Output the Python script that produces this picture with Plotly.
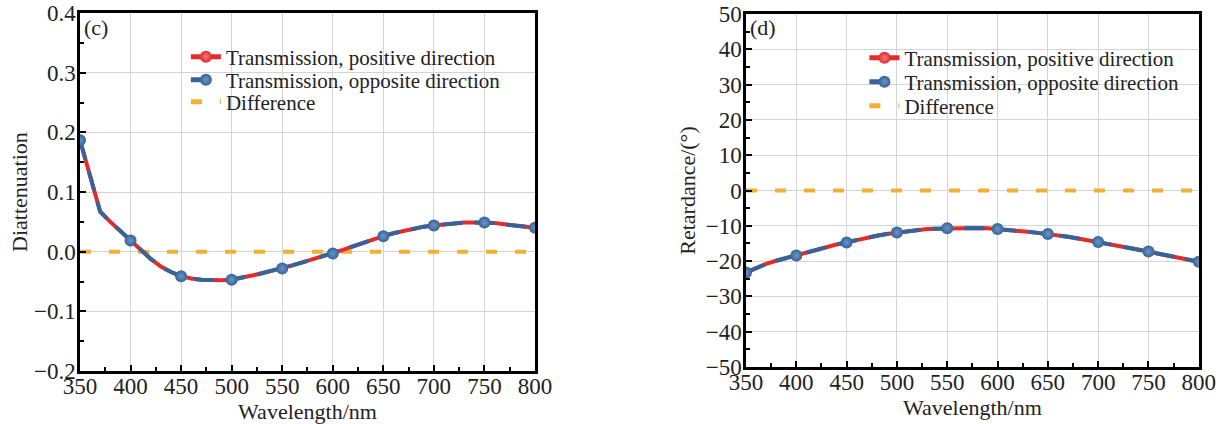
import plotly.graph_objects as go

# Wavelength grid (nm) and the sampled curves
wavelength = list(range(350, 801, 10))

diatt_positive = [0.187, 0.128, 0.067, 0.050, 0.034, 0.019, 0.003, -0.012, -0.025, -0.034,
                  -0.041, -0.045, -0.047, -0.048, -0.048, -0.047, -0.044, -0.040, -0.036, -0.032,
                  -0.028, -0.023, -0.018, -0.013, -0.008, -0.003, 0.003, 0.009, 0.015, 0.021,
                  0.026, 0.031, 0.035, 0.039, 0.042, 0.044, 0.046, 0.048, 0.049, 0.049,
                  0.049, 0.048, 0.046, 0.044, 0.042, 0.040]
diatt_opposite = list(diatt_positive)
diatt_difference = [p - o for p, o in zip(diatt_positive, diatt_opposite)]

retard_positive = [-23.2, -21.9, -20.8, -19.9, -19.1, -18.4, -17.6, -16.8, -16.0, -15.3,
                   -14.7, -14.0, -13.4, -12.8, -12.3, -11.9, -11.5, -11.2, -10.9, -10.8,
                   -10.7, -10.6, -10.5, -10.6, -10.7, -10.9, -11.1, -11.4, -11.7, -12.0,
                   -12.3, -12.7, -13.1, -13.6, -14.1, -14.6, -15.1, -15.7, -16.2, -16.8,
                   -17.3, -17.9, -18.4, -19.0, -19.6, -20.2]
retard_opposite = list(retard_positive)
retard_difference = [p - o for p, o in zip(retard_positive, retard_opposite)]

x_ticks = list(range(350, 801, 50))
names = ["Transmission, positive direction", "Transmission, opposite direction", "Difference"]

RED = "#E52A2A"
BLUE = "#35649A"
ORANGE = "#F3AE35"
FONT = "Liberation Serif"
TXT = "#222222"

# markers only every 50 nm; red ones sit fully hidden under the blue ones
size_red = [9 if w % 50 == 0 else 0 for w in wavelength]
size_blue = [12 if w % 50 == 0 else 0 for w in wavelength]

fig = go.Figure()


def add_panel(xa, ya, legends, pos, opp, diff):
    # difference first so it sits beneath the transmission curves
    fig.add_trace(go.Scatter(
        x=wavelength, y=diff, name=names[2], mode="lines",
        xaxis=xa, yaxis=ya, legend=legends[2],
        line=dict(color=ORANGE, width=4, dash="11px,18px"),
    ))
    fig.add_trace(go.Scatter(
        x=wavelength, y=pos, name=names[0], mode="lines+markers",
        xaxis=xa, yaxis=ya, legend=legends[0],
        line=dict(color=RED, width=4),
        marker=dict(size=size_red, color=RED, symbol="circle", opacity=1,
                    gradient=dict(type="radial", color="#F27A7A"),
                    line=dict(width=0)),
    ))
    fig.add_trace(go.Scatter(
        x=wavelength, y=opp, name=names[1], mode="lines+markers",
        xaxis=xa, yaxis=ya, legend=legends[1],
        line=dict(color=BLUE, width=4, dash="20px,12px"),
        marker=dict(size=size_blue, color=BLUE, symbol="circle", opacity=1,
                    gradient=dict(type="radial", color="#6D94C4"),
                    line=dict(width=0)),
    ))


add_panel("x", "y", ["legend", "legend2", "legend3"],
          diatt_positive, diatt_opposite, diatt_difference)
add_panel("x2", "y2", ["legend4", "legend5", "legend6"],
          retard_positive, retard_opposite, retard_difference)

minor_common = dict(ticks="inside", ticklen=4, tickwidth=2, tickcolor="black", showgrid=False)
axis_common = dict(
    showline=True, linecolor="black", linewidth=2.5, mirror=True,
    showgrid=True, gridcolor="#D4D4D4", gridwidth=1,
    ticks="inside", ticklen=6, tickwidth=2, tickcolor="black",
    tickfont=dict(family=FONT, size=23, color=TXT),
    zeroline=False, automargin=False,
)
title_font = dict(family=FONT, size=22, color=TXT)


def legend_row(x, y):
    return dict(x=x, y=y, xanchor="left", yanchor="middle", bgcolor="rgba(0,0,0,0)",
                font=dict(family=FONT, size=21, color=TXT), itemsizing="constant",
                borderwidth=0, visible=True)


fig.update_layout(
    width=1227, height=424,
    margin=dict(l=0, r=0, t=0, b=0, autoexpand=False),
    paper_bgcolor="white", plot_bgcolor="white",
    font=dict(family=FONT, color=TXT),
    showlegend=True,
    xaxis=dict(axis_common, domain=[0.0652, 0.4360], range=[350, 800],
               tickvals=x_ticks, minor=dict(minor_common, dtick=25, tick0=350),
               ticklabelstandoff=-7,
               title=dict(text="Wavelength/nm", font=title_font, standoff=4)),
    yaxis=dict(axis_common, domain=[0.125, 0.969], range=[-0.2, 0.4], dtick=0.1,
               tickformat=".1f", minor=dict(minor_common, dtick=0.05),
               ticklabelstandoff=-3,
               title=dict(text="Diattenuation", font=title_font, standoff=1)),
    xaxis2=dict(axis_common, domain=[0.608, 0.977], range=[350, 800], anchor="y2",
                tickvals=x_ticks, minor=dict(minor_common, dtick=25, tick0=350),
                ticklabelstandoff=-7,
                title=dict(text="Wavelength/nm", font=title_font, standoff=4)),
    yaxis2=dict(axis_common, domain=[0.1344, 0.967], range=[-50, 50], dtick=10, anchor="x2",
                minor=dict(minor_common, dtick=5),
                ticklabelstandoff=-3,
                title=dict(text="Retardance/(°)", font=title_font, standoff=4)),
    legend=legend_row(0.1515, 0.8656),
    legend2=legend_row(0.1515, 0.8113),
    legend3=legend_row(0.1515, 0.7594),
    legend4=legend_row(0.7045, 0.8627),
    legend5=legend_row(0.7045, 0.8066),
    legend6=legend_row(0.7045, 0.750),
    annotations=[
        dict(text="(c)", x=0.0665, y=0.934, xref="paper", yref="paper", xanchor="left",
             yanchor="middle", showarrow=False, font=dict(family=FONT, size=22, color=TXT)),
        dict(text="(d)", x=0.6100, y=0.934, xref="paper", yref="paper", xanchor="left",
             yanchor="middle", showarrow=False, font=dict(family=FONT, size=22, color=TXT)),
    ],
)

fig.write_html("out.html")
